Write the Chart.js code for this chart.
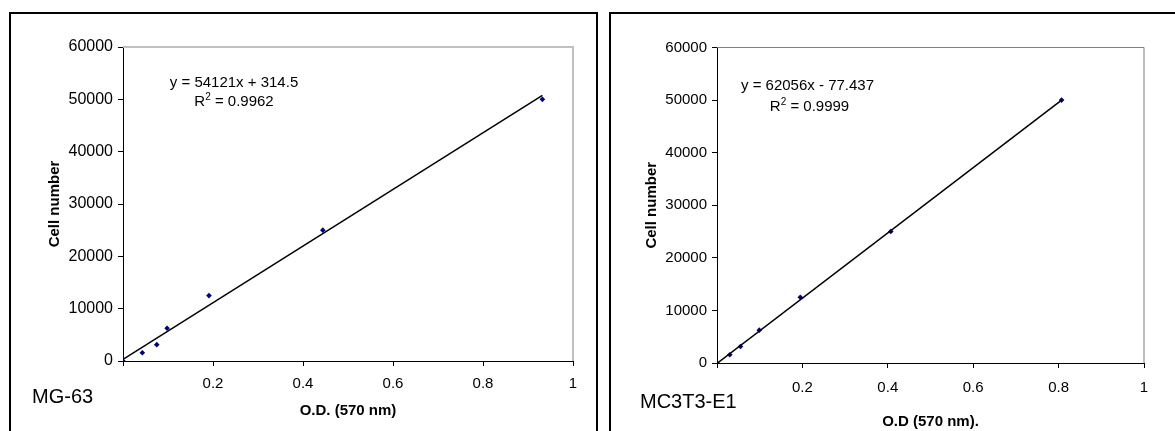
<!DOCTYPE html>
<html>
<head>
<meta charset="utf-8">
<script src="https://cdn.jsdelivr.net/npm/chart.js@4"></script>
<style>
  html, body { margin:0; padding:0; background:#fff; width:1175px; height:431px; overflow:hidden; position:relative; font-family:"Liberation Sans", Arial, sans-serif; }
  .panel { position:absolute; border:2px solid #000; box-sizing:border-box; }
  canvas { position:absolute; top:0; }
  .lbl { position:absolute; font-size:20px; line-height:20px; color:#000; white-space:nowrap; }
</style>
</head>
<body>
<div class="panel" style="left:9px; top:12px; width:589px; height:500px;"></div>
<div class="panel" style="left:609px; top:12px; width:700px; height:500px;"></div>
<canvas id="c1" width="600" height="431" style="left:0px;"></canvas>
<canvas id="c2" width="575" height="431" style="left:600px;"></canvas>
<div class="lbl" style="left:32px; top:386px;">MG-63</div>
<div class="lbl" style="left:640px; top:391px;">MC3T3-E1</div>
<script>
// ---- data ----
const cellNumbers = [0, 1562.5, 3125, 6250, 12500, 25000, 50000];
const mg63OD      = [0, 0.043, 0.075, 0.098, 0.191, 0.444, 0.932];
const mc3t3OD     = [0, 0.030, 0.055, 0.099, 0.195, 0.407, 0.807];
const mg63Fit  = { slope: 54121, intercept: 314.5, r2: "0.9962" };
const mc3t3Fit = { slope: 62056, intercept: -77.437, r2: "0.9999" };
const mg63EqText  = "y = 54121x + 314.5";
const mc3t3EqText = "y = 62056x - 77.437";
const xTickValues = [0, 0.2, 0.4, 0.6, 0.8, 1];
const yTickValues = [0, 10000, 20000, 30000, 40000, 50000, 60000];

const FONT = "'Liberation Sans', Arial, sans-serif";

const plotBorder = {
  id: 'plotBorder',
  beforeDatasetsDraw(chart, args, opts) {
    const {ctx, chartArea: a} = chart;
    ctx.save();
    ctx.strokeStyle = opts.color; ctx.lineWidth = opts.width;
    ctx.beginPath();
    ctx.moveTo(a.left, a.top); ctx.lineTo(a.right, a.top); ctx.lineTo(a.right, a.bottom);
    ctx.stroke();
    ctx.restore();
  }
};

const eqLabel = {
  id: 'eqLabel',
  afterDraw(chart, args, opts) {
    const ctx = chart.ctx;
    ctx.save();
    ctx.fillStyle = '#000';
    ctx.textBaseline = 'alphabetic';
    ctx.font = '15px ' + FONT;
    ctx.textAlign = 'center';
    ctx.fillText(opts.eq, opts.x1, opts.y1);
    ctx.textAlign = 'left';
    const rest = ' = ' + opts.r2;
    const wR = ctx.measureText('R').width;
    const wRest = ctx.measureText(rest).width;
    ctx.font = '10px ' + FONT;
    const w2 = ctx.measureText('2').width;
    let x = opts.x2 - (wR + w2 + wRest) / 2;
    ctx.font = '15px ' + FONT;
    ctx.fillText('R', x, opts.y2);
    ctx.font = '10px ' + FONT;
    ctx.fillText('2', x + wR, opts.y2 - 6);
    ctx.font = '15px ' + FONT;
    ctx.fillText(rest, x + wR + w2, opts.y2);
    ctx.restore();
  }
};

function makeChart(id, xs, fit, xTitle, lay, eq, border) {
  const pts = xs.map((x, i) => ({x: x, y: cellNumbers[i]}));
  const xMax = Math.max(...xs);
  const trend = [{x: 0, y: fit.intercept}, {x: xMax, y: fit.slope * xMax + fit.intercept}];
  return new Chart(document.getElementById(id), {
    type: 'scatter',
    data: {
      datasets: [
        { data: trend, showLine: true, borderColor: '#000', borderWidth: 1.5, pointRadius: 0, fill: false },
        { data: pts, pointStyle: 'rectRot', pointRadius: 2.8, backgroundColor: '#000080', borderColor: '#000080', borderWidth: 0 }
      ]
    },
    options: {
      responsive: false, animation: false, devicePixelRatio: 1,
      layout: { padding: { left: lay.pl, top: lay.pt, right: lay.pr, bottom: lay.pb } },
      plugins: { legend: { display: false }, tooltip: { enabled: false },
        plotBorder: border, eqLabel: eq },
      scales: {
        x: {
          type: 'linear', min: 0, max: 1,
          afterBuildTicks: s => { s.ticks = xTickValues.map(v => ({value: v})); },
          afterFit: s => { s.height = lay.xh; },
          grid: { display: true, drawOnChartArea: false, drawTicks: true, tickLength: 5, color: '#000', lineWidth: 1 },
          border: { display: true, color: '#000', width: 1 },
          ticks: { color: '#000', padding: lay.xpad, font: { family: FONT, size: 15 },
            callback: v => v === 0 ? '' : String(+v.toFixed(1)) },
          title: { display: true, text: xTitle, color: '#000', padding: 0, font: { family: FONT, size: 15, weight: 'bold' } }
        },
        y: {
          type: 'linear', min: 0, max: 60000,
          afterBuildTicks: s => { s.ticks = yTickValues.map(v => ({value: v})); },
          afterFit: s => { s.width = lay.yw; },
          grid: { display: true, drawOnChartArea: false, drawTicks: true, tickLength: 5, color: '#000', lineWidth: 1 },
          border: { display: true, color: '#000', width: 1 },
          ticks: { color: '#000', padding: 5, font: { family: FONT, size: lay.yfs }, callback: v => String(v) },
          title: { display: true, text: 'Cell number', color: '#000', padding: 0, font: { family: FONT, size: 15, weight: 'bold' } }
        }
      }
    },
    plugins: [plotBorder, eqLabel]
  });
}

makeChart('c1', mg63OD, mg63Fit, 'O.D. (570 nm)',
  { pl: 46, pt: 47, pr: 27, pb: 11, yw: 77, xh: 59, xpad: 9, yfs: 16 },
  { eq: mg63EqText, r2: mg63Fit.r2, x1: 234, y1: 86.5, x2: 234, y2: 106 },
  { color: '#c0c0c0', width: 2 });

makeChart('c2', mc3t3OD, mc3t3Fit, 'O.D (570 nm).',
  { pl: 43, pt: 47.5, pr: 31, pb: 0, yw: 74, xh: 68, xpad: 11, yfs: 15 },
  { eq: mc3t3EqText, r2: mc3t3Fit.r2, x1: 207.5, y1: 90, x2: 209.5, y2: 111 },
  { color: '#808080', width: 1 });
</script>
</body>
</html>
